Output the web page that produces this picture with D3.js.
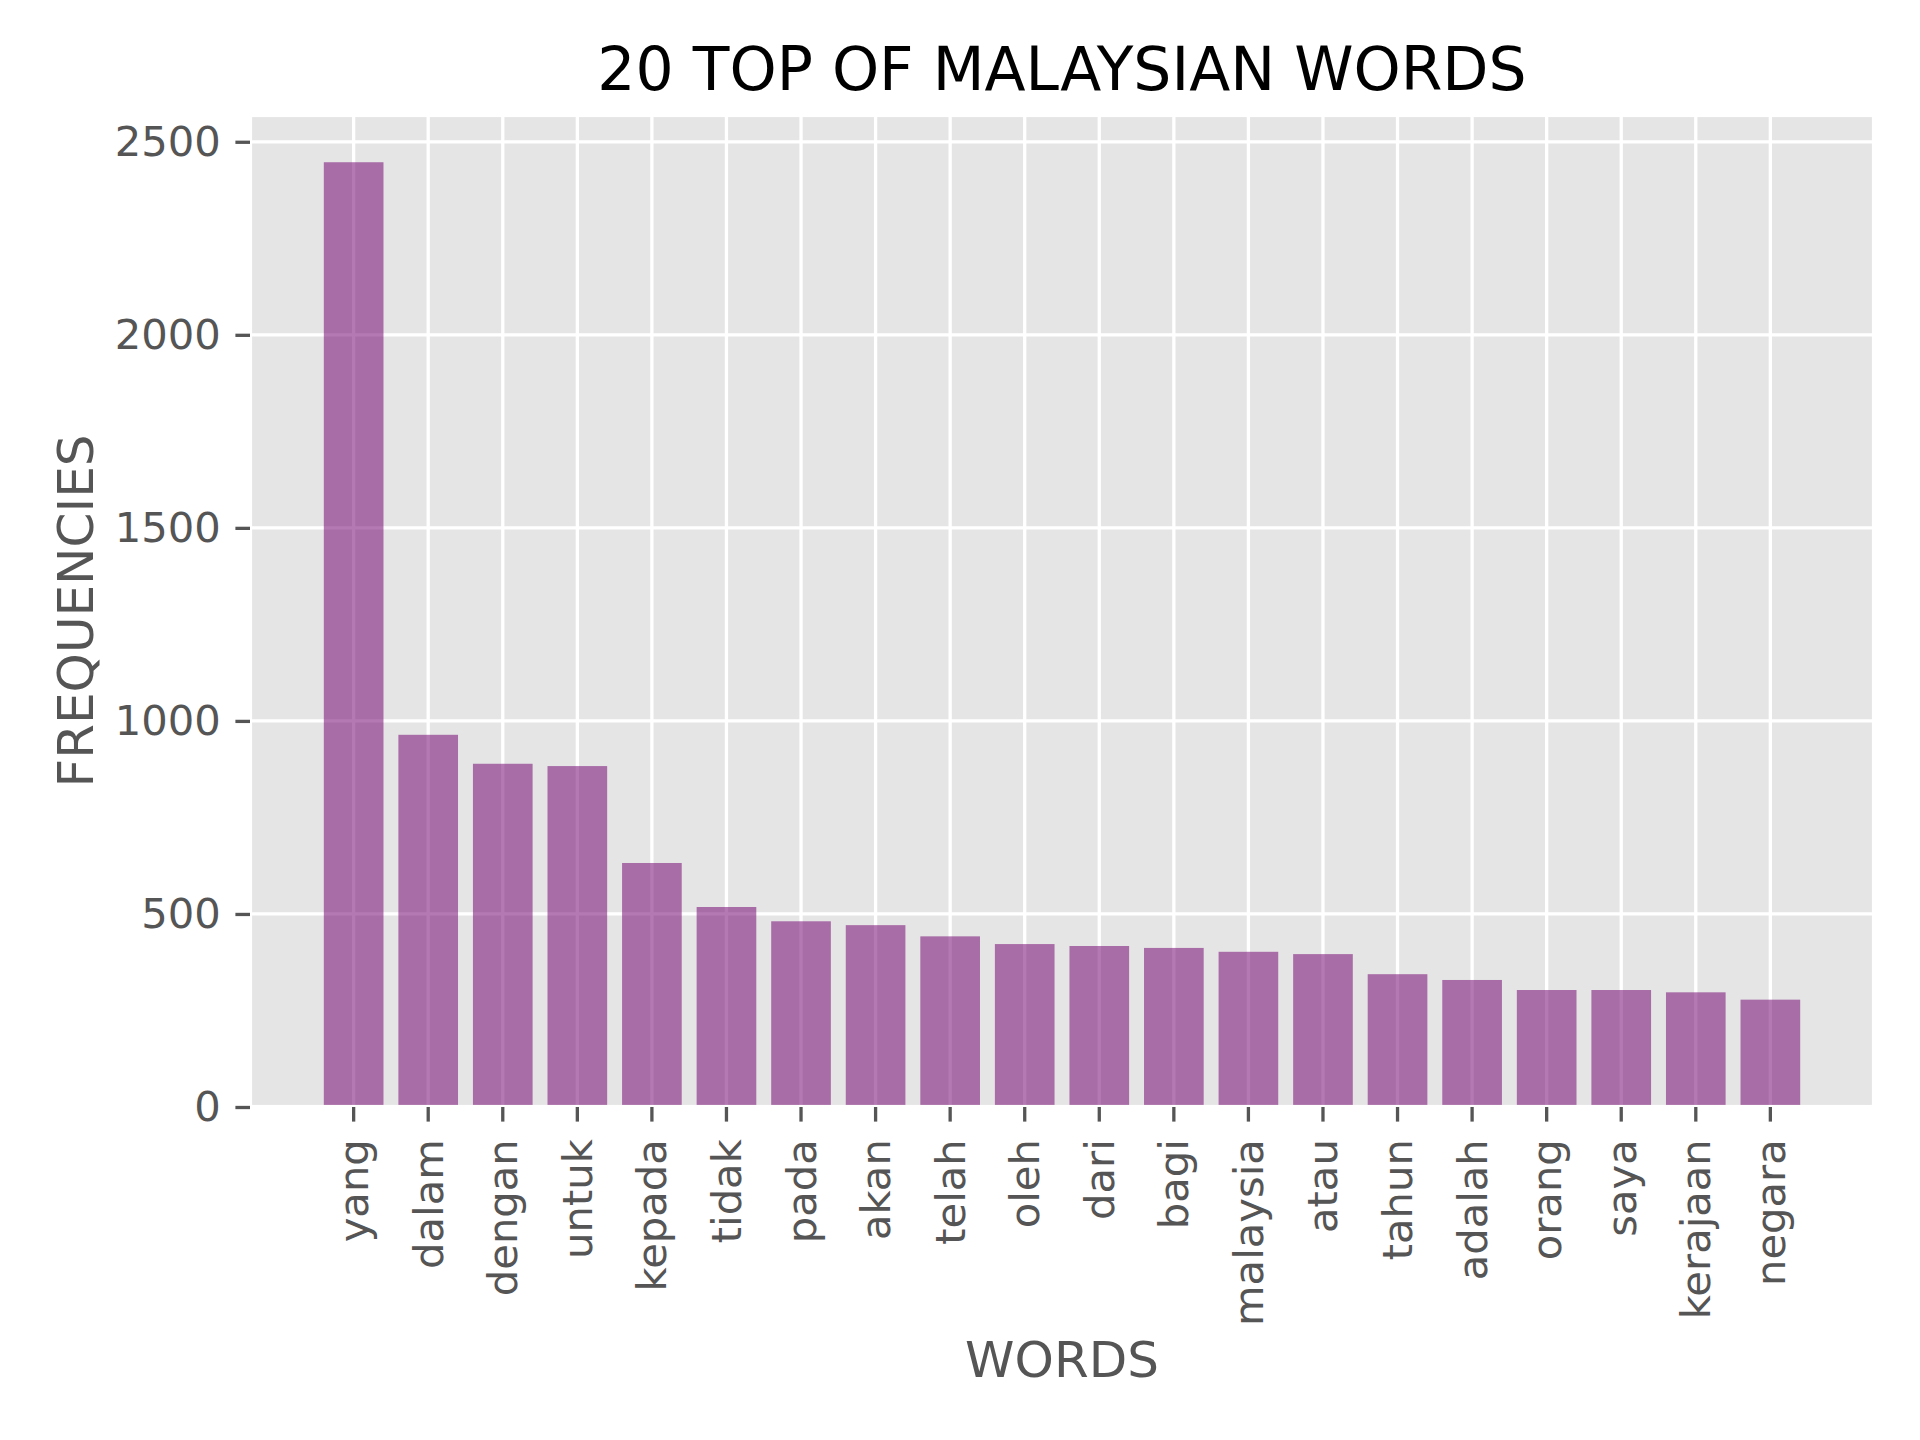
<!DOCTYPE html>
<html>
<head>
<meta charset="utf-8">
<script src="https://cdn.jsdelivr.net/npm/d3@7"></script>
<style>
  body { margin: 0; background: #fff; }
  text { font-family: "DejaVu Sans", sans-serif; }
</style>
</head>
<body>
<script>
// words and how often they show up
var words = ["yang", "dalam", "dengan", "untuk", "kepada", "tidak", "pada", "akan", "telah", "oleh",
             "dari", "bagi", "malaysia", "atau", "tahun", "adalah", "orang", "saya", "kerajaan", "negara"];
var frequencies = [2447, 964, 889, 883, 632, 518, 481, 471, 442, 422,
                   417, 412, 402, 396, 344, 329, 303, 303, 297, 278];
var yTicks = [0, 500, 1000, 1500, 2000, 2500];

// Set the dimensions and margins of the diagram
var width = 1920, height = 1440;
var margin = {top: 115, right: 46, bottom: 333, left: 250};
var plotW = width - margin.left - margin.right,
    plotH = height - margin.top - margin.bottom;

var tickLen = 14.6, tickPad = 14.6;

var svg = d3.select("body").append("svg")
    .attr("width", width)
    .attr("height", height);

var g = svg.append("g")
    .attr("transform", "translate(" + margin.left + "," + margin.top + ")");

// band scale with matplotlib like margins (bar width 0.8, 5% padding)
var x = d3.scaleBand()
    .domain(words)
    .range([0, plotW])
    .paddingInner(0.2)
    .paddingOuter(0.99);

var y = d3.scaleLinear()
    .domain([0, d3.max(frequencies) * 1.05])
    .range([plotH, 0]);

// grey background
g.append("rect")
    .attr("width", plotW)
    .attr("height", plotH)
    .attr("fill", "#e5e5e5");

// grid lines
g.selectAll("line.hgrid")
    .data(yTicks)
  .enter().append("line")
    .attr("class", "hgrid")
    .attr("x1", 0).attr("x2", plotW)
    .attr("y1", function(d) { return y(d); })
    .attr("y2", function(d) { return y(d); })
    .attr("stroke", "#fff")
    .attr("stroke-width", 3.3);

g.selectAll("line.vgrid")
    .data(words)
  .enter().append("line")
    .attr("class", "vgrid")
    .attr("x1", function(d) { return x(d) + x.bandwidth() / 2; })
    .attr("x2", function(d) { return x(d) + x.bandwidth() / 2; })
    .attr("y1", 0).attr("y2", plotH)
    .attr("stroke", "#fff")
    .attr("stroke-width", 3.3);

// bars
g.selectAll("rect.bar")
    .data(words)
  .enter().append("rect")
    .attr("class", "bar")
    .attr("x", function(d) { return x(d); })
    .attr("width", x.bandwidth())
    .attr("y", function(d, i) { return y(frequencies[i]); })
    .attr("height", function(d, i) { return plotH - y(frequencies[i]); })
    .attr("fill", "rgb(118,9,115)")
    .attr("fill-opacity", 0.55);

// white spines
g.append("rect")
    .attr("width", plotW)
    .attr("height", plotH)
    .attr("fill", "none")
    .attr("stroke", "#fff")
    .attr("stroke-width", 4.2);

// y axis
var yAxis = g.append("g")
    .call(d3.axisLeft(y).tickValues(yTicks).tickFormat(d3.format("d"))
      .tickSize(tickLen).tickPadding(tickPad));
yAxis.select(".domain").remove();
yAxis.selectAll(".tick line")
    .attr("stroke", "#555555")
    .attr("stroke-width", 3.3);
yAxis.selectAll(".tick text")
    .attr("fill", "#555555")
    .style("font-size", "41.7px")
    .style("font-family", "DejaVu Sans");

// x axis, labels turned up
var xAxis = g.append("g")
    .attr("transform", "translate(0," + plotH + ")")
    .call(d3.axisBottom(x).tickSize(tickLen).tickPadding(tickPad));
xAxis.select(".domain").remove();
xAxis.selectAll(".tick line")
    .attr("stroke", "#555555")
    .attr("stroke-width", 3.3);
xAxis.selectAll(".tick text")
    .attr("fill", "#555555")
    .style("font-size", "41.7px")
    .style("font-family", "DejaVu Sans")
    .attr("text-anchor", "end")
    .attr("dy", null)
    .attr("dominant-baseline", "central")
    .attr("x", 0)
    .attr("y", 0)
    .attr("transform", "translate(0," + (tickLen + tickPad + 3) + ") rotate(-90)");

// title and axis labels
svg.append("text")
    .attr("x", margin.left + plotW / 2)
    .attr("y", 90)
    .attr("text-anchor", "middle")
    .attr("fill", "#000")
    .style("font-size", "60px")
    .text("20 TOP OF MALAYSIAN WORDS");

svg.append("text")
    .attr("x", margin.left + plotW / 2)
    .attr("y", 1377)
    .attr("text-anchor", "middle")
    .attr("fill", "#555555")
    .style("font-size", "50px")
    .text("WORDS");

svg.append("text")
    .attr("transform", "translate(93," + (margin.top + plotH / 2) + ") rotate(-90)")
    .attr("text-anchor", "middle")
    .attr("fill", "#555555")
    .style("font-size", "50px")
    .text("FREQUENCIES");
</script>
</body>
</html>
